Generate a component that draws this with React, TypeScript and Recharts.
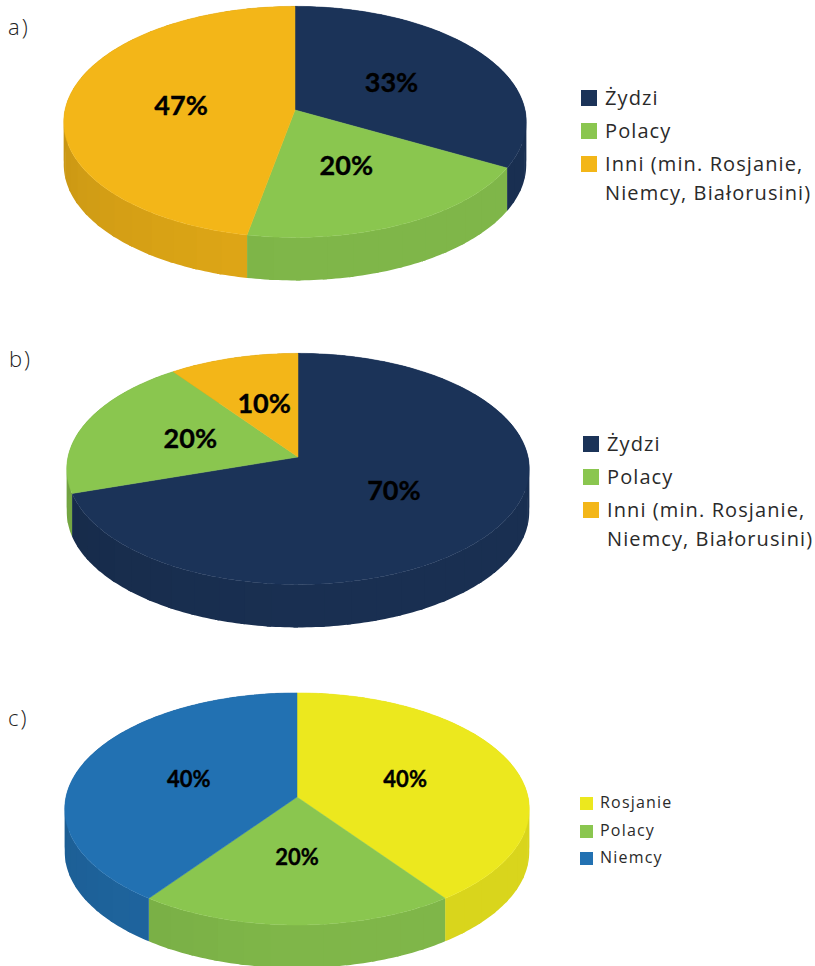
import { PieChart, Pie, Legend } from 'recharts';

const categoriesA = ['Żydzi', 'Polacy', 'Inni (min. Rosjanie, Niemcy, Białorusini)'];
const valuesA = [33, 20, 47];
const colorsA = ['#1B3358', '#8AC64F', '#F3B618'];

const categoriesB = ['Żydzi', 'Polacy', 'Inni (min. Rosjanie, Niemcy, Białorusini)'];
const valuesB = [70, 20, 10];
const colorsB = ['#1B3358', '#8AC64F', '#F3B618'];

const categoriesC = ['Rosjanie', 'Polacy', 'Niemcy'];
const valuesC = [40, 20, 40];
const colorsC = ['#ECE81E', '#8AC64F', '#2271B2'];

const FLATTEN = 0.497;
const PERSPECTIVE = 0.103;
const DEPTH = 43;

// circle -> tilted disc, the pivot stays above the middle of the ellipse like in a 3d pie
const project = (cx: number, cy: number, r: number, f: number, theta: number) => {
  const rad = (theta * Math.PI) / 180;
  const u = f * Math.sin(rad);
  const v = -f * Math.cos(rad);
  const w = 1 - PERSPECTIVE * v;
  return { x: cx + (r * u) / w, y: cy + (r * FLATTEN * v) / w };
};

const shadeColor = (hex: string, k: number) => {
  const n = parseInt(hex.slice(1), 16);
  const c = [(n >> 16) & 255, (n >> 8) & 255, n & 255].map((x) => Math.round(x * k));
  return `rgb(${c[0]},${c[1]},${c[2]})`;
};

const wallShade = (theta: number) => {
  if (theta > 180) return 0.92 - ((theta - 180) / 90) * 0.1;
  return 0.92;
};

function TopSlice(props: any) {
  const { cx, cy, outerRadius, startAngle, endAngle, fill } = props;
  const from = 90 - startAngle;
  const to = 90 - endAngle;
  let d = `M${cx},${cy}`;
  for (let t = from; t < to; t += 1) {
    const p = project(cx, cy, outerRadius, 1, t);
    d += `L${p.x},${p.y}`;
  }
  const last = project(cx, cy, outerRadius, 1, to);
  d += `L${last.x},${last.y}Z`;
  return <path d={d} fill={fill} stroke={fill} strokeWidth={0.5} />;
}

function WallSlice(props: any) {
  const { cx, cy, outerRadius, startAngle, endAngle, fill } = props;
  const from = 90 - startAngle;
  const to = 90 - endAngle;
  const bands = [];
  for (let t = from; t < to; t += 6) {
    // each band runs a little under the next one so no seam shows
    const next = Math.min(t + 7, to);
    const upper = [];
    const lower = [];
    for (let s = t; s <= next; s += 1) {
      const a = project(cx, cy, outerRadius, 1, s);
      upper.push(`${a.x},${a.y}`);
      lower.unshift(`${a.x},${a.y + DEPTH}`);
    }
    const end = project(cx, cy, outerRadius, 1, next);
    upper.push(`${end.x},${end.y}`);
    lower.unshift(`${end.x},${end.y + DEPTH}`);
    bands.push(<path key={t} d={`M${upper.concat(lower).join('L')}Z`} fill={shadeColor(fill, wallShade(t))} />);
  }
  return <g>{bands}</g>;
}

const renderLabel = (fontSize: number, dy: number) => (props: any) => {
  const { cx, cy, outerRadius, midAngle, value } = props;
  const p = project(cx, cy, outerRadius, 0.5, 90 - midAngle);
  return (
    <text
      x={p.x}
      y={p.y + dy}
      textAnchor="middle"
      dominantBaseline="central"
      fontFamily="Lato"
      fontWeight={700}
      fontSize={fontSize}
      fill="#000"
      stroke="#000"
      strokeWidth={0.35}
    >
      {value}%
    </text>
  );
};

type LegendBox = {
  left: number;
  top: number;
  width: number;
  size: number;
  spacing: number;
  line: number;
  box: number;
  gap: number;
  rowGap: number;
};

const renderLegend = (box: LegendBox) => (props: any) => {
  // both Pie layers report their items, keep one of each
  const items = props.payload.filter(
    (item: any, i: number) => props.payload.findIndex((o: any) => o.value === item.value) === i
  );
  return (
    <div
      style={{
        fontFamily: '"Open Sans"',
        fontWeight: 400,
        fontSize: box.size,
        letterSpacing: box.spacing,
        lineHeight: `${box.line}px`,
        color: '#2a2a2a',
      }}
    >
      {items.map((item: any) => (
        <div key={item.value} style={{ position: 'relative', paddingLeft: box.gap, marginBottom: box.rowGap, width: box.width }}>
          <span
            style={{
              position: 'absolute',
              left: 0,
              top: Math.ceil((box.line - box.box) / 2),
              width: box.box,
              height: box.box,
              background: item.color,
            }}
          />
          {item.value}
        </div>
      ))}
    </div>
  );
};

type PanelProps = {
  categories: string[];
  values: number[];
  colors: string[];
  top: number;
  height: number;
  cx: number;
  cy: number;
  radius: number;
  labelSize: number;
  labelDy: number;
  legend: LegendBox;
};

function PiePanel({ categories, values, colors, top, height, cx, cy, radius, labelSize, labelDy, legend }: PanelProps) {
  const data = categories.map((name, i) => ({ name, value: values[i], fill: colors[i] }));
  return (
    <div style={{ position: 'absolute', left: 0, top }}>
      <PieChart width={815} height={height} margin={{ top: 0, right: 0, bottom: 0, left: 0 }}>
        <Pie
          data={data}
          dataKey="value"
          nameKey="name"
          cx={cx}
          cy={cy}
          outerRadius={radius}
          startAngle={90}
          endAngle={-270}
          legendType="none"
          shape={WallSlice}
          isAnimationActive={false}
        />
        <Pie
          data={data}
          dataKey="value"
          nameKey="name"
          cx={cx}
          cy={cy}
          outerRadius={radius}
          startAngle={90}
          endAngle={-270}
          shape={TopSlice}
          label={renderLabel(labelSize, labelDy)}
          labelLine={false}
          isAnimationActive={false}
        />
        <Legend
          layout="vertical"
          align="right"
          verticalAlign="top"
          itemSorter={null}
          content={renderLegend(legend)}
          wrapperStyle={{ left: legend.left, top: legend.top, width: legend.width }}
        />
      </PieChart>
    </div>
  );
}

const tagStyle = {
  position: 'absolute',
  fontFamily: '"Open Sans"',
  fontWeight: 300,
  fontSize: 22,
  letterSpacing: 2,
  lineHeight: '24px',
  color: '#222',
} as const;

export default function App() {
  return (
    <div style={{ position: 'absolute', left: 0, top: 0, width: 815, height: 966, overflow: 'hidden', background: '#fff' }}>
      <div style={{ ...tagStyle, left: 8, top: 14 }}>a)</div>
      <div style={{ ...tagStyle, left: 9, top: 346 }}>b)</div>
      <div style={{ ...tagStyle, left: 8, top: 705 }}>c)</div>
      <PiePanel
        categories={categoriesA}
        values={valuesA}
        colors={colorsA}
        top={0}
        height={320}
        cx={295}
        cy={110}
        radius={230}
        labelSize={27}
        labelDy={0}
        legend={{ left: 581, top: 83, width: 234, size: 20, spacing: 1.1, line: 29, box: 16, gap: 24, rowGap: 4 }}
      />
      <PiePanel
        categories={categoriesB}
        values={valuesB}
        colors={colorsB}
        top={330}
        height={320}
        cx={298}
        cy={127}
        radius={230}
        labelSize={27}
        labelDy={-2.5}
        legend={{ left: 583, top: 99, width: 232, size: 20, spacing: 1.1, line: 29, box: 16, gap: 24, rowGap: 4 }}
      />
      <PiePanel
        categories={categoriesC}
        values={valuesC}
        colors={colorsC}
        top={670}
        height={296}
        cx={297}
        cy={127}
        radius={231}
        labelSize={22}
        labelDy={-1}
        legend={{ left: 580, top: 119, width: 200, size: 16, spacing: 1.2, line: 27.5, box: 13, gap: 20, rowGap: 0 }}
      />
    </div>
  );
}
